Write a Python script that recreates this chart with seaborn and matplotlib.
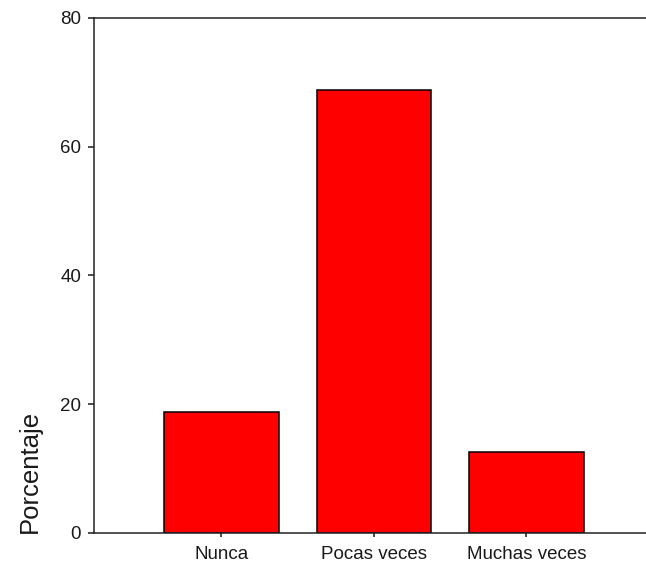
import pandas as pd
import matplotlib
matplotlib.use("Agg")
import matplotlib.pyplot as plt
import seaborn as sns

categories = ["Nunca", "Pocas veces", "Muchas veces"]
percentages = [18.7, 68.8, 12.5]
y_ticks = [0, 20, 40, 60, 80]

df = pd.DataFrame({"respuesta": categories, "porcentaje": percentages})

sns.set_theme(style="ticks")
plt.rcParams["font.family"] = ["Liberation Sans", "DejaVu Sans"]

fig = plt.figure(figsize=(6.46, 5.68), dpi=100)
ax = fig.add_axes([94 / 646, 1 - 532.7 / 568, 1 - 94 / 646, (532.7 - 18) / 568])

sns.barplot(
    data=df,
    x="respuesta",
    y="porcentaje",
    color="#ff0000",
    saturation=1,
    width=0.75,
    edgecolor="black",
    linewidth=1.1,
    ax=ax
)

ax.set_xlim(-0.836, 2.784)
ax.set_ylim(0, 80)
ax.set_yticks(y_ticks)
ax.set_xlabel("")
ax.set_ylabel("Porcentaje", fontsize=18.5, color="#1a1a1a", loc="bottom", labelpad=13)

for side in ["left", "top", "bottom"]:
    ax.spines[side].set_visible(True)
    ax.spines[side].set_linewidth(1.1)
    ax.spines[side].set_color("#222222")
ax.spines["right"].set_visible(False)

ax.tick_params(axis="y", length=4.3, width=1.1, pad=5, labelsize=13.5, colors="#1a1a1a")
ax.tick_params(axis="x", length=2.9, width=1.1, pad=7, labelsize=13.5, colors="#1a1a1a")

fig.savefig("out.png", dpi=100)
